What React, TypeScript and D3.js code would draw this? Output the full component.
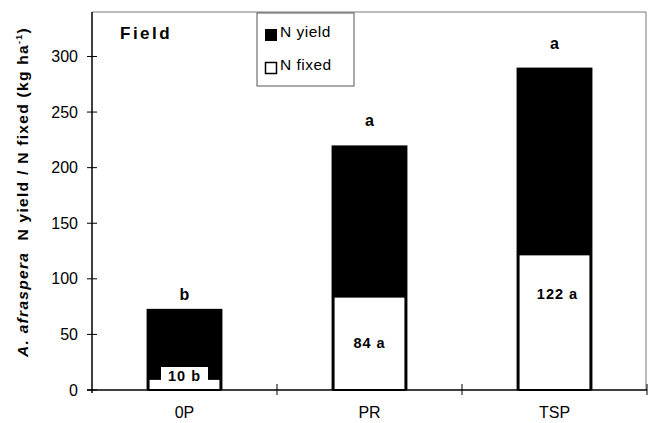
import React, { useEffect, useRef } from 'react';
import * as d3 from 'd3';

// Treatments and values (kg N ha-1)
const categories = ['0P', 'PR', 'TSP'];
const nYield = [73, 220, 290];
const nFixed = [10, 84, 122];
const yieldLetters = ['b', 'a', 'a'];
const fixedLetters = ['b', 'a', 'a'];
const yTicks = [0, 50, 100, 150, 200, 250, 300];

export default function App() {
  const svgRef = useRef<SVGSVGElement>(null);

  useEffect(() => {
    if (!svgRef.current) return;
    const svg = d3.select(svgRef.current);
    svg.selectAll('*').remove();

    const left = 92, right = 647, top = 12, bottom = 390;
    const font = 'Arial, "Liberation Sans", sans-serif';

    const y = d3.scaleLinear().domain([0, 340]).range([bottom, top]);
    const x = d3
      .scaleBand<string>()
      .domain(categories)
      .range([left, right])
      .paddingInner(0.59)
      .paddingOuter(0.295);

    // frame (top and right) in thin grey
    svg.append('path')
      .attr('d', `M${left},${top}H${right - 1}V${bottom}`)
      .attr('fill', 'none')
      .attr('stroke', '#777')
      .attr('stroke-width', 1);

    const data = categories.map((c, i) => ({
      c, total: nYield[i], fixed: nFixed[i], ly: yieldLetters[i], lf: fixedLetters[i],
    }));

    // N yield (black, whole bar)
    svg.selectAll('.yield')
      .data(data)
      .enter()
      .append('rect')
      .attr('x', d => x(d.c)!)
      .attr('y', d => y(d.total))
      .attr('width', x.bandwidth())
      .attr('height', d => y(0) - y(d.total))
      .attr('fill', '#000');

    // N fixed (white with black border)
    svg.selectAll('.fixed')
      .data(data)
      .enter()
      .append('rect')
      .attr('x', d => x(d.c)! + 2)
      .attr('y', d => y(d.fixed))
      .attr('width', x.bandwidth() - 4)
      .attr('height', d => y(0) - y(d.fixed))
      .attr('fill', '#fff')
      .attr('stroke', '#000')
      .attr('stroke-width', 2);

    // letters above bars
    svg.selectAll('.ly')
      .data(data)
      .enter()
      .append('text')
      .attr('x', d => x(d.c)! + x.bandwidth() / 2)
      .attr('y', (d, i) => y(d.total) - (i === 0 ? 9 : 19))
      .attr('text-anchor', 'middle')
      .attr('font-family', font)
      .attr('font-weight', 'bold')
      .attr('font-size', 16)
      .text(d => d.ly);

    // labels inside the N fixed part
    const labelShift = [0, 0, 28];
    data.forEach((d, i) => {
      const cx = x(d.c)! + x.bandwidth() / 2 + (i === 2 ? 3 : 0);
      const cy = i === 0 ? y(0) - 14 : y(d.fixed / 2) - labelShift[i];
      const t = svg.append('text')
        .attr('x', cx)
        .attr('y', cy + 5)
        .attr('text-anchor', 'middle')
        .attr('font-family', font)
        .attr('font-weight', 'bold')
        .attr('font-size', 14.5)
        .attr('letter-spacing', 1)
        .text(`${d.fixed} ${d.lf}`);
      if (i === 0) {
        const bb = (t.node() as SVGTextElement).getBBox();
        svg.insert('rect', () => t.node())
          .attr('x', bb.x - 7)
          .attr('y', cy - 9)
          .attr('width', bb.width + 14)
          .attr('height', 15)
          .attr('fill', '#fff');
      }
    });

    // axes
    svg.append('line')
      .attr('x1', left).attr('x2', left)
      .attr('y1', top).attr('y2', bottom + 3)
      .attr('stroke', '#000').attr('stroke-width', 1.5);
    svg.append('line')
      .attr('x1', left - 5).attr('x2', right)
      .attr('y1', bottom).attr('y2', bottom)
      .attr('stroke', '#000').attr('stroke-width', 1.5);

    yTicks.forEach(v => {
      svg.append('line')
        .attr('x1', left - 5).attr('x2', left + 5)
        .attr('y1', y(v)).attr('y2', y(v))
        .attr('stroke', '#000').attr('stroke-width', 1);
      svg.append('text')
        .attr('x', left - 14)
        .attr('y', y(v) + 5.5)
        .attr('text-anchor', 'end')
        .attr('font-family', font)
        .attr('font-size', 16)
        .text(v);
    });

    categories.forEach(c => {
      const bx = x(c)! + x.bandwidth() + (x.step() * x.paddingInner()) / 2;
      svg.append('line')
        .attr('x1', bx).attr('x2', bx)
        .attr('y1', bottom - 6).attr('y2', bottom + 5)
        .attr('stroke', '#000').attr('stroke-width', 1);
      svg.append('text')
        .attr('x', x(c)! + x.bandwidth() / 2)
        .attr('y', 418)
        .attr('text-anchor', 'middle')
        .attr('font-family', font)
        .attr('font-size', 16)
        .text(c);
    });

    // "Field" title
    svg.append('text')
      .attr('x', 120)
      .attr('y', 39)
      .attr('font-family', font)
      .attr('font-weight', 'bold')
      .attr('font-size', 17)
      .attr('letter-spacing', 2.5)
      .text('Field');

    // legend
    const lg = svg.append('g');
    lg.append('rect')
      .attr('x', 257).attr('y', 13)
      .attr('width', 97).attr('height', 73)
      .attr('fill', '#fff')
      .attr('stroke', '#555').attr('stroke-width', 1);
    lg.append('rect')
      .attr('x', 265).attr('y', 29).attr('width', 12).attr('height', 12)
      .attr('fill', '#000');
    lg.append('rect')
      .attr('x', 265.5).attr('y', 62.5).attr('width', 11).attr('height', 11)
      .attr('fill', '#fff').attr('stroke', '#000').attr('stroke-width', 1.5);
    [['N yield', 37], ['N fixed', 70]].forEach(([t, yy]) => {
      lg.append('text')
        .attr('x', 280).attr('y', yy as number)
        .attr('font-family', font)
        .attr('font-size', 15.5)
        .attr('letter-spacing', 0.5)
        .text(t as string);
    });

    // y axis title
    const yt = svg.append('text')
      .attr('transform', 'translate(28,192) rotate(-90)')
      .attr('text-anchor', 'middle')
      .attr('font-family', font)
      .attr('font-weight', 'bold')
      .attr('font-size', 15.5)
      .attr('letter-spacing', 1.3);
    yt.append('tspan').attr('font-style', 'italic').text('A. afraspera');
    yt.append('tspan').text('\u00a0 N yield / N fixed (kg ha');
    yt.append('tspan').attr('font-size', 9).attr('dy', -6).text('-1');
    yt.append('tspan').attr('dy', 6).text(')');
  }, []);

  return (
    <div style={{ position: 'absolute', left: 0, top: 0 }}>
      <svg ref={svgRef} width={648} height={423}></svg>
    </div>
  );
}
